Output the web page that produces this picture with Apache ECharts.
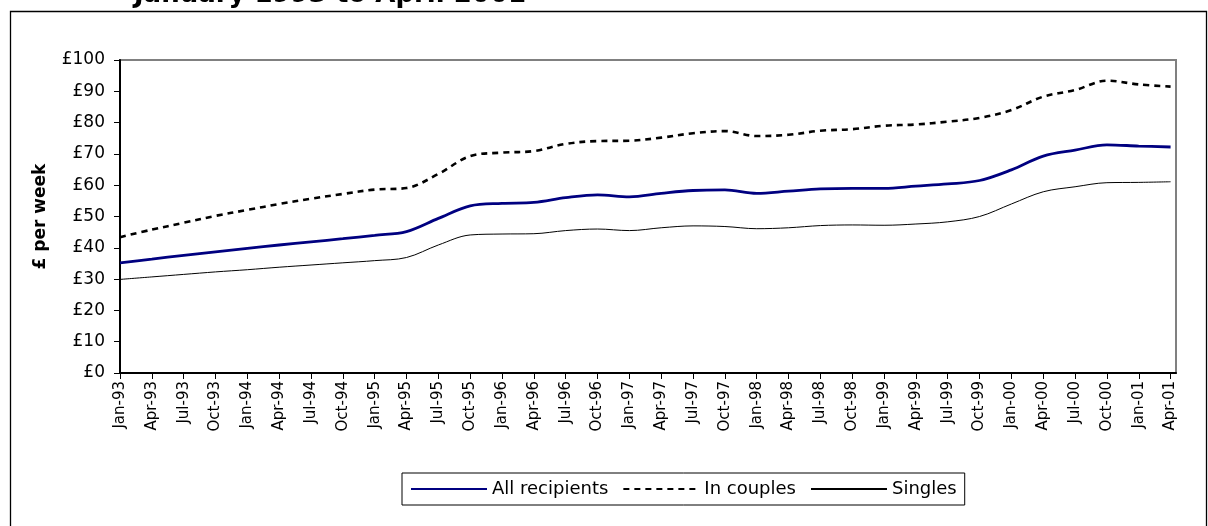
<!DOCTYPE html>
<html>
<head>
<meta charset="utf-8">
<script src="https://cdn.jsdelivr.net/npm/echarts@6/dist/echarts.min.js"></script>
<style>
html,body{margin:0;padding:0;background:#fff;}
#chart{width:1208px;height:526px;}
</style>
</head>
<body>
<div id="chart"></div>
<script>
var categories = ['Jan-93','Apr-93','Jul-93','Oct-93','Jan-94','Apr-94','Jul-94','Oct-94',
  'Jan-95','Apr-95','Jul-95','Oct-95','Jan-96','Apr-96','Jul-96','Oct-96',
  'Jan-97','Apr-97','Jul-97','Oct-97','Jan-98','Apr-98','Jul-98','Oct-98',
  'Jan-99','Apr-99','Jul-99','Oct-99','Jan-00','Apr-00','Jul-00','Oct-00',
  'Jan-01','Apr-01'];
var allRecipients = [35.2,36.4,37.6,38.7,39.8,40.9,41.9,42.9,44.0,45.2,49.4,53.4,54.2,54.5,56.0,56.9,
  56.3,57.4,58.3,58.5,57.4,58.1,58.8,59.0,59.0,59.7,60.4,61.5,64.9,69.3,71.2,72.9,72.5,72.2];
var inCouples = [43.4,45.8,48.0,50.2,52.1,54.0,55.7,57.2,58.6,59.1,63.6,69.3,70.4,70.9,73.2,74.1,
  74.2,75.2,76.6,77.3,75.7,76.1,77.4,77.9,79.0,79.4,80.3,81.5,84.0,88.3,90.4,93.4,92.2,91.5];
var singles = [29.9,30.7,31.5,32.3,33.0,33.8,34.5,35.2,35.9,36.9,40.9,44.1,44.4,44.5,45.5,46.0,
  45.5,46.4,47.0,46.8,46.1,46.4,47.1,47.3,47.2,47.6,48.3,50.0,54.0,57.9,59.5,60.8,60.9,61.1];
var seriesNames = ['All recipients','In couples','Singles'];
var yTicks = [0,10,20,30,40,50,60,70,80,90,100];
var titleText = 'January 1993 to April 2001';

function pairs(arr){ return arr.map(function(v,i){ return [i,v]; }); }
var idx = categories.map(function(_,i){ return i; });
var FONT = '"DejaVu Sans", "Liberation Sans", Arial, sans-serif';

var chart = echarts.init(document.getElementById('chart'), null, {renderer:'canvas'});
chart.setOption({
  backgroundColor:'#ffffff',
  animation:false,
  graphic:[
    {type:'rect', shape:{x:10.5,y:11.5,width:1196,height:540}, style:{fill:'none',stroke:'#000',lineWidth:1.3}, silent:true, z:-1},
    {type:'text', x:330, y:8, style:{text:titleText, font:'bold 26px "DejaVu Sans", sans-serif', fill:'#000', textAlign:'center', textVerticalAlign:'bottom'}, silent:true}
  ],
  grid:{left:120, right:32, top:60, bottom:153, show:true, borderColor:'#808080', borderWidth:2, backgroundColor:'#fff'},
  legend:{
    data:seriesNames, left:402, top:473, orient:'horizontal',
    itemWidth:76, itemHeight:14, itemGap:14,
    padding:[7,8,7,8], borderColor:'#000', borderWidth:1,
    itemStyle:{opacity:0},
    textStyle:{fontFamily:FONT, fontSize:18, color:'#000'}
  },
  xAxis:{
    type:'value', min:0, max:33.17, interval:1,
    axisLine:{show:true, lineStyle:{color:'#000', width:2}},
    axisTick:{show:true, length:6, lineStyle:{color:'#000', width:1}, customValues:idx},
    axisLabel:{rotate:90, margin:8, fontFamily:FONT, fontSize:15, color:'#000', customValues:idx,
      formatter:function(v){ var i=Math.round(v); return categories[i] || ''; }},
    splitLine:{show:false}
  },
  yAxis:{
    type:'value', min:yTicks[0], max:yTicks[yTicks.length-1], interval:10,
    name:'£ per week', nameLocation:'middle', nameGap:71,
    nameTextStyle:{fontFamily:FONT, fontSize:17, fontWeight:'bold', color:'#000'},
    axisLine:{show:true, lineStyle:{color:'#000', width:2}},
    axisTick:{show:true, length:6, lineStyle:{color:'#000', width:1}},
    axisLabel:{margin:15, fontFamily:FONT, fontSize:17, color:'#000', formatter:'£{value}'},
    splitLine:{show:false}
  },
  series:[
    {name:seriesNames[0], type:'line', data:pairs(allRecipients), symbol:'none', smooth:0.35,
      lineStyle:{color:'#000080', width:2.8}, itemStyle:{color:'#000080'}, z:3},
    {name:seriesNames[1], type:'line', data:pairs(inCouples), symbol:'none', smooth:0.35,
      lineStyle:{color:'#000', width:2.6, type:[6,5]}, itemStyle:{color:'#000'}, z:2},
    {name:seriesNames[2], type:'line', data:pairs(singles), symbol:'none', smooth:0.35,
      lineStyle:{color:'#000', width:1}, itemStyle:{color:'#000'}, z:2}
  ]
});
</script>
</body>
</html>
